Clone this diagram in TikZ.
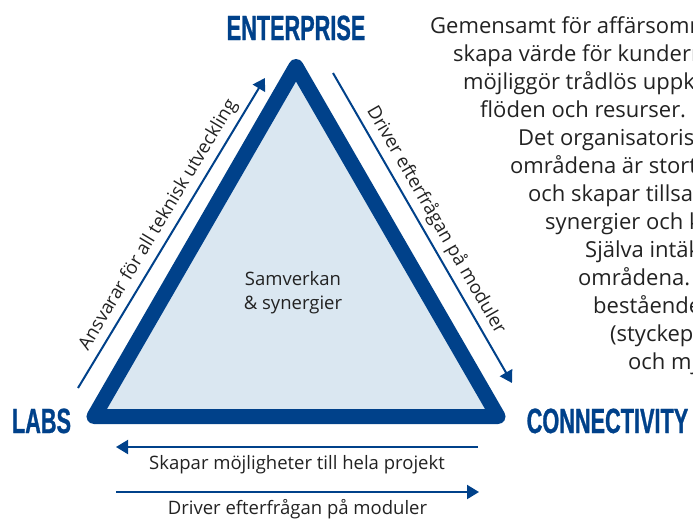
\documentclass[tikz,border=0pt]{standalone}
\usepackage{fontspec}
\setmainfont{Open Sans}
\newfontfamily\headfont[FakeStretch=0.62,FakeBold=0.8]{Liberation Sans}
\usetikzlibrary{arrows.meta,positioning}
\definecolor{tridark}{RGB}{0,65,138}
\definecolor{trifill}{RGB}{218,231,241}
\definecolor{txtgrey}{RGB}{34,34,34}

\begin{document}
\begin{tikzpicture}[x=1pt,y=-1pt,>={Triangle[length=12pt,width=14pt]},
  corner/.style={font=\headfont\bfseries\fontsize{35}{35}\selectfont,text=tridark,inner sep=0pt,anchor=base},
  side/.style={->,draw=tridark,line width=2pt},
  lbl/.style={font=\fontsize{18.5}{24}\selectfont,text=txtgrey,inner sep=0pt},
  note/.style={font=\fontsize{22}{26}\selectfont,text=txtgrey,inner sep=0pt,anchor=base west}]
  \useasboundingbox (0,0) rectangle (693,520);

  % triangle corners
  \coordinate (ent) at (296,66.5);
  \coordinate (lab) at (94,416.5);
  \coordinate (con) at (498,416.5);
  \draw[draw=tridark,fill=trifill,line width=15pt,line join=round] (ent) -- (lab) -- (con) -- cycle;

  \node[corner] (enterprise) at (296,40) {ENTERPRISE};
  \node[corner] (labs) at (41.5,433) {LABS};
  \node[corner] (connectivity) at (607.5,433) {CONNECTIVITY};
  \node[lbl,align=center] (core) at (293,293) {Samverkan\\\& synergier};

  % arrows along the sides
  \coordinate (l1) at (78,388);   \coordinate (l2) at (265,78);
  \coordinate (r1) at (333,73);   \coordinate (r2) at (512,383);
  \coordinate (b1) at (478,447);  \coordinate (b2) at (116,447);
  \coordinate (c1) at (116,492);  \coordinate (c2) at (479,492);

  \draw[side] (l1) -- node[lbl,sloped,above=5pt] {Ansvarar för all teknisk utveckling} (l2);
  \draw[side] (r1) -- node[lbl,sloped,above=5pt] {Driver efterfrågan på moduler} (r2);
  \draw[side] (b1) -- node[lbl,below=7pt] {Skapar möjligheter till hela projekt} (b2);
  \draw[side] (c1) -- node[lbl,below=6pt] {Driver efterfrågan på moduler} (c2);

  % text on the right, cut by the page edge
  \foreach \sx/\txt [count=\i] in {430/Gemensamt för affärsomr, 453/skapa värde för kundern,
      463/möjliggör trådlös uppk, 480/flöden och resurser., 518/Det organisatoris,
      510/områdena är stort, 528/och skapar tillsam, 545/synergier och k,
      585/Själva intäk, 578/områdena., 593/bestående, 610/(styckep, 628/och mj}
    \node[note] (p\i) at (\sx,{5+28*\i}) {\txt};
\end{tikzpicture}
\end{document}
